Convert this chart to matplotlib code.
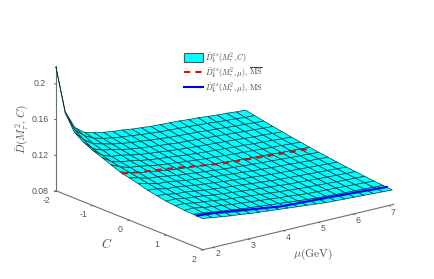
import matplotlib
matplotlib.use('Agg')
import matplotlib.pyplot as plt
import numpy as np
from matplotlib.lines import Line2D
from matplotlib.patches import Patch

plt.rcParams['font.family'] = ['Liberation Sans', 'DejaVu Sans']
plt.rcParams['mathtext.fontset'] = 'cm'
plt.rcParams['axes.unicode_minus'] = False

C_VALUES = [-2, -1.75, -1.5, -1.25, -1, -0.75, -0.5, -0.25, 0, 0.25, 0.5, 0.75, 1, 1.25, 1.5, 1.75, 2]
MU_VALUES = [1.70, 1.97, 2.24, 2.51, 2.78, 3.05, 3.32, 3.59, 3.86, 4.13, 4.40, 4.67, 4.94, 5.21, 5.48, 5.75, 6.02, 6.29, 6.56, 6.83, 7.10]

# one row per mu, one column per C
D_SURFACE = [
    [.2190, .1720, .1540, .1470, .1420, .1380, .1340, .1300, .1275, .1250, .1220, .1200, .1180, .1170, .1160, .1155, .1150],
    [.1660, .1500, .1430, .1370, .1340, .1310, .1290, .1270, .1250, .1230, .1210, .1190, .1180, .1170, .1160, .1145, .1135],
    [.1460, .1410, .1360, .1330, .1300, .1280, .1260, .1240, .1220, .1200, .1185, .1170, .1160, .1150, .1140, .1130, .1120],
    [.1380, .1356, .1333, .1310, .1289, .1268, .1248, .1229, .1212, .1195, .1180, .1164, .1151, .1138, .1126, .1115, .1105],
    [.1350, .1328, .1306, .1285, .1265, .1246, .1228, .1210, .1194, .1179, .1164, .1150, .1138, .1126, .1114, .1104, .1095],
    [.1330, .1308, .1287, .1266, .1247, .1228, .1210, .1193, .1177, .1162, .1148, .1134, .1122, .1110, .1099, .1089, .1080],
    [.1315, .1293, .1272, .1252, .1233, .1215, .1197, .1181, .1165, .1151, .1137, .1123, .1111, .1099, .1089, .1079, .1070],
    [.1305, .1283, .1262, .1242, .1223, .1205, .1187, .1171, .1155, .1141, .1127, .1113, .1101, .1089, .1079, .1069, .1060],
    [.1290, .1269, .1248, .1229, .1210, .1192, .1175, .1159, .1143, .1129, .1115, .1102, .1090, .1079, .1068, .1059, .1050],
    [.1280, .1259, .1238, .1219, .1200, .1182, .1165, .1149, .1133, .1119, .1105, .1092, .1080, .1069, .1058, .1049, .1040],
    [.1270, .1249, .1228, .1209, .1190, .1172, .1155, .1139, .1123, .1109, .1095, .1082, .1070, .1059, .1048, .1039, .1030],
    [.1265, .1243, .1222, .1202, .1183, .1165, .1147, .1131, .1115, .1101, .1087, .1073, .1061, .1049, .1039, .1029, .1020],
    [.1260, .1238, .1217, .1196, .1177, .1158, .1140, .1123, .1107, .1092, .1078, .1064, .1052, .1040, .1029, .1019, .1010],
    [.1255, .1233, .1211, .1190, .1170, .1151, .1133, .1115, .1099, .1084, .1069, .1055, .1043, .1031, .1019, .1009, .1000],
    [.1245, .1223, .1202, .1181, .1162, .1143, .1125, .1108, .1092, .1077, .1063, .1049, .1037, .1025, .1014, .1004, .0995],
    [.1240, .1218, .1197, .1176, .1157, .1138, .1120, .1103, .1087, .1072, .1058, .1044, .1032, .1020, .1009, .0999, .0990],
    [.1230, .1208, .1187, .1167, .1148, .1130, .1112, .1096, .1080, .1066, .1052, .1038, .1026, .1014, .1004, .0994, .0985],
    [.1220, .1199, .1178, .1159, .1140, .1122, .1105, .1089, .1073, .1059, .1045, .1032, .1020, .1009, .0998, .0989, .0980],
    [.1215, .1194, .1173, .1154, .1135, .1117, .1100, .1084, .1068, .1054, .1040, .1027, .1015, .1004, .0993, .0984, .0975],
    [.1205, .1184, .1164, .1145, .1127, .1109, .1093, .1077, .1062, .1048, .1034, .1021, .1010, .0999, .0988, .0979, .0970],
    [.1200, .1179, .1159, .1140, .1122, .1104, .1088, .1072, .1057, .1043, .1029, .1016, .1005, .0994, .0983, .0974, .0965],
]

MU_RED = [1.70, 2.2, 3.08, 4.51, 5.8, 7.10]
D_RED = [.1290, .1260, .1220, .1136, .1100, .1067]
C_RED = -0.2

MU_BLUE = [1.70, 2.07, 3.0, 4.07, 5.5, 7.10]
D_BLUE = [.1158, .1146, .1097, .1039, .1010, .0974]
C_BLUE = 1.85

C_TICKS = [-2, -1, 0, 1, 2]
MU_TICKS = [2, 3, 4, 5, 6, 7]
Z_TICKS = [0.08, 0.12, 0.16, 0.2]
Z_LABELS = ['0.08', '0.12', '0.16', '0.2']

W, H = 434, 279
SIDE = 440
CENTER = (219, 138)

fig = plt.figure(figsize=(W / 100, H / 100), dpi=100)
ax = fig.add_axes([(CENTER[0] - SIDE / 2) / W, (CENTER[1] - SIDE / 2) / H, SIDE / W, SIDE / H],
                  projection='3d', computed_zorder=False)
ax.patch.set_alpha(0)
ax.set_proj_type('ortho')
ax.view_init(elev=18, azim=-37.6)
ax.set_box_aspect((239.6, 239.6, 131), zoom=0.805)

c_mesh, mu_mesh = np.meshgrid(C_VALUES, MU_VALUES)
ax.plot_surface(c_mesh, mu_mesh, np.array(D_SURFACE), rstride=1, cstride=1, color='#00ffff',
                edgecolor='#0a3a40', linewidth=0.5, shade=False, zorder=1)
ax.plot([C_RED] * len(MU_RED), MU_RED, D_RED, color='#f00000', ls=(0, (3.2, 2.6)), lw=1.4, zorder=3)
ax.plot([C_BLUE] * len(MU_BLUE), MU_BLUE, D_BLUE, color='#0000f0', lw=1.5, zorder=3)

ax.set_xlim(-2, 2, view_margin=0)
ax.set_ylim(1.71, 7.14, view_margin=0)
ax.set_zlim(0.08, 0.22, view_margin=0)
ax.set_xticks(C_TICKS)
ax.set_yticks(MU_TICKS)
ax.set_zticks(Z_TICKS)
ax.set_zticklabels(Z_LABELS)
ax.grid(False)
for axis in (ax.xaxis, ax.yaxis, ax.zaxis):
    axis.set_pane_color((1, 1, 1, 0))
    axis.pane.set_edgecolor((1, 1, 1, 0))
    axis.line.set_color('#707070')
    axis.line.set_linewidth(0.8)
    axis._axinfo['tick']['inward_factor'] = 0.12
    axis._axinfo['tick']['outward_factor'] = 0.0
    axis._axinfo['tick']['linewidth'] = {True: 0.6, False: 0.5}
    axis._axinfo['tick']['color'] = '#707070'
ax.tick_params(labelsize=6.3, labelcolor='#555555', colors='#555555')
ax.xaxis.set_tick_params(pad=0)
ax.yaxis.set_tick_params(pad=-3)
ax.zaxis.set_tick_params(pad=0)
ax.zaxis.set_ticks_position('lower')
for label in ax.get_xticklabels() + ax.get_yticklabels() + ax.get_zticklabels():
    label.set_verticalalignment('center_baseline')

fig.text(22 / W, 1 - 129 / H, r'$\bar{D}(M_\tau^2,C)$', rotation=90, fontsize=8.2, ha='center', va='center', color='#555555')
fig.text(107 / W, 1 - 244 / H, r'$C$', fontsize=9, ha='center', va='center', color='#555555')
fig.text(313 / W, 1 - 254 / H, r'$\mu(\mathrm{GeV})$', fontsize=8.4, ha='center', va='center', color='#555555')

handles = [Patch(facecolor='#00ffff', edgecolor='#555555', linewidth=0.8),
           Line2D([], [], color='#f00000', ls=(0, (3.2, 2.6)), lw=1.4),
           Line2D([], [], color='#0000f0', lw=1.5)]
labels = [r'$\bar{D}_4^{us}(M_\tau^2,C)$',
          r'$\bar{D}_4^{us}(M_\tau^2,\mu),\, \overline{\mathrm{MS}}$',
          r'$\bar{D}_4^{us}(M_\tau^2,\mu),\, \mathrm{MS}$']
fig.legend(handles, labels, loc='upper left', bbox_to_anchor=(184 / W, 1 - 50 / H), frameon=False,
           fontsize=5.7, handlelength=2.4, handleheight=1.45, labelspacing=0.08, handletextpad=0.25,
           borderpad=0, borderaxespad=0, labelcolor='#444444')

fig.savefig('out.png', dpi=100)
